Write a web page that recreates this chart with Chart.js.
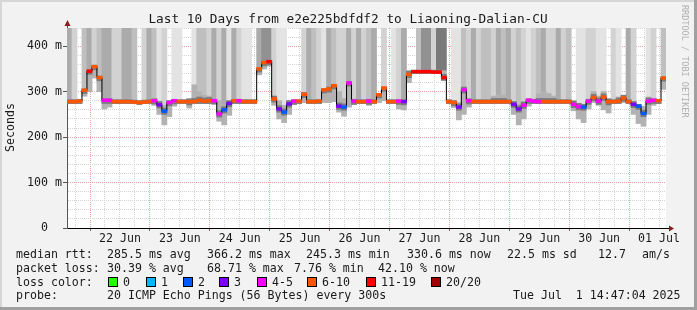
<!DOCTYPE html>
<html>
<head>
<meta charset="utf-8">
<script src="https://cdn.jsdelivr.net/npm/chart.js@4.4.1/dist/chart.umd.min.js"></script>
<style>
  html, body { margin: 0; padding: 0; background: #f2f2f2; }
  canvas { display: block; }
</style>
</head>
<body>
<canvas id="ping" width="697" height="310"></canvas>
<script>
// samples every 2 hours, hours counted from Jun 21 00:00, graph starts Jun 21 14:47
var startHour = 14.78;
var stepHours = 2;
var spanHours = 240;
var dayLabels = ['22 Jun', '23 Jun', '24 Jun', '25 Jun', '26 Jun', '27 Jun', '28 Jun', '29 Jun', '30 Jun', '01 Jul'];
var yLabels = ['0', '100 m', '200 m', '300 m', '400 m'];

// median rtt (ms), one row per 24h
var median = [
  278, 278, 279, 303, 345, 355, 331, 281, 281, 278, 278, 278,
  278, 277, 276, 277, 278, 280, 271, 257, 276, 280, 278, 278,
  278, 278, 281, 279, 280, 280, 251, 260, 274, 280, 280, 278,
  278, 278, 350, 364, 366, 284, 262, 255, 273, 279, 279, 294,
  278, 278, 279, 304, 306, 313, 268, 266, 319, 279, 278, 278,
  279, 278, 293, 308, 278, 278, 279, 278, 338, 344, 344, 344,
  344, 343, 343, 331, 278, 276, 266, 304, 280, 278, 278, 278,
  278, 278, 278, 278, 278, 272, 262, 270, 281, 279, 278, 278,
  278, 278, 278, 278, 278, 272, 267, 266, 279, 287, 279, 288,
  278, 278, 279, 286, 278, 272, 268, 252, 279, 281, 280, 330
];
// loss colour bucket of the median (index into lossColors)
var lossLevel = [
  5, 5, 5, 5, 6, 5, 5, 4, 4, 5, 5, 5,
  5, 5, 5, 5, 5, 4, 3, 2, 4, 4, 5, 5,
  5, 5, 5, 5, 5, 4, 4, 2, 3, 5, 4, 5,
  5, 5, 5, 5, 6, 5, 3, 2, 3, 4, 5, 5,
  5, 5, 5, 5, 5, 5, 3, 2, 4, 4, 5, 5,
  4, 5, 5, 5, 5, 5, 4, 3, 5, 6, 6, 6,
  6, 6, 6, 6, 5, 5, 3, 4, 4, 5, 5, 5,
  5, 5, 5, 5, 5, 3, 3, 4, 4, 4, 4, 5,
  5, 5, 5, 5, 5, 4, 4, 2, 4, 5, 4, 5,
  5, 5, 5, 5, 5, 3, 2, 2, 4, 4, 5, 5
];
// smoke (spread of the pings), low and high edge in ms
var smokeLow = [
  274, 274, 274, 290, 300, 330, 300, 262, 266, 274, 274, 274,
  274, 274, 272, 274, 274, 270, 250, 227, 245, 268, 274, 274,
  264, 274, 274, 274, 274, 272, 235, 227, 248, 274, 274, 274,
  274, 274, 337, 350, 356, 270, 240, 232, 250, 272, 274, 276,
  274, 274, 274, 276, 276, 278, 255, 246, 266, 272, 274, 274,
  270, 274, 276, 280, 274, 274, 262, 260, 320, 340, 340, 340,
  340, 340, 340, 325, 274, 265, 238, 250, 266, 274, 274, 274,
  274, 274, 274, 274, 274, 250, 227, 240, 268, 274, 274, 274,
  274, 274, 274, 274, 274, 258, 240, 232, 262, 276, 270, 260,
  253, 274, 274, 276, 274, 250, 230, 224, 250, 270, 274, 305
];
var smokeHigh = [
  282, 282, 283, 306, 348, 358, 334, 284, 284, 282, 282, 282,
  282, 281, 280, 281, 282, 284, 279, 270, 280, 283, 282, 282,
  284, 315, 300, 292, 290, 283, 280, 270, 280, 283, 283, 282,
  282, 282, 352, 366, 368, 290, 280, 270, 280, 282, 282, 298,
  282, 282, 282, 306, 310, 316, 300, 285, 322, 283, 282, 282,
  283, 282, 296, 310, 282, 282, 282, 282, 346, 347, 347, 347,
  347, 347, 347, 346, 282, 280, 276, 310, 284, 282, 282, 282,
  282, 290, 293, 292, 282, 278, 272, 278, 284, 283, 295, 300,
  296, 290, 282, 282, 282, 280, 274, 272, 283, 300, 290, 300,
  284, 282, 288, 292, 282, 278, 272, 268, 288, 284, 283, 332
];
// shade of the lost-ping columns above the smoke (0 = none, 6 = darkest)
var lossShade = [
  4, 2, 0, 3, 4, 2, 3, 4, 4, 2, 2, 4,
  4, 3, 0, 2, 4, 3, 1, 2, 0, 1, 1, 0,
  0, 1, 3, 3, 2, 4, 2, 4, 1, 4, 2, 1,
  1, 0, 4, 5, 5, 2, 1, 1, 0, 0, 0, 2,
  4, 3, 2, 1, 4, 3, 2, 2, 4, 2, 4, 2,
  3, 4, 0, 2, 0, 1, 2, 4, 0, 0, 3, 5,
  5, 2, 6, 6, 0, 1, 1, 3, 2, 4, 2, 3,
  3, 2, 4, 3, 4, 2, 3, 2, 1, 2, 3, 4,
  2, 2, 4, 2, 3, 0, 1, 1, 2, 2, 1, 1,
  0, 2, 1, 0, 4, 2, 0, 0, 1, 2, 0, 3
];

var lossColors = ['#26ff00', '#00b8ff', '#0059ff', '#7e00ff', '#ff00ff', '#ff5500', '#ff0000', '#a10000'];
var lossNames = ['0', '1', '2', '3', '4-5', '6-10', '11-19', '20/20'];
var shadeColors = ['rgba(0,0,0,0)', '#e3e3e3', '#d2d2d2', '#bfbfbf', '#ababab', '#919191', '#7a7a7a'];

var rttStats = ['285.5 ms avg', '366.2 ms max', '245.3 ms min', '330.6 ms now', '22.5 ms sd', '12.7', 'am/s'];
var lossStats = ['30.39 % avg', '68.71 % max', '7.76 % min', '42.10 % now'];
var probeText = '20 ICMP Echo Pings (56 Bytes) every 300s';
var stampText = 'Tue Jul  1 14:47:04 2025';

var yMax = 440;
var mono = "'DejaVu Sans Mono', monospace";
var majorGrid = '#eaa0a0';
var minorGrid = '#d4d4d4';

var lossBars = [], smokeBars = [], smokeCore = [], medianPts = [], markers = [];
median.forEach(function(v, i) {
  var h = startHour + stepHours / 2 + i * stepHours;
  lossBars.push({x: h, y: [smokeHigh[i], yMax]});
  smokeBars.push({x: h, y: [smokeLow[i], smokeHigh[i]]});
  smokeCore.push({x: h, y: [Math.max(smokeLow[i], v - 7), Math.min(smokeHigh[i], v + 7)]});
  medianPts.push({x: h, y: v});
  markers.push({x: h, y: [v - 2.9, v + 2.9]});
});

var barOpts = {barPercentage: 1, categoryPercentage: 1, grouped: false, borderWidth: 0, inflateAmount: 0.4};

var rrdFrame = {
  id: 'rrdFrame',
  beforeDraw: function(chart) {
    var c = chart.ctx, a = chart.chartArea;
    c.save();
    c.fillStyle = '#f2f2f2';
    c.fillRect(0, 0, 697, 310);
    c.fillStyle = '#d6d6d6';
    c.fillRect(0, 0, 697, 2);
    c.fillRect(0, 0, 2, 310);
    c.fillStyle = '#a0a0a0';
    c.fillRect(0, 307, 697, 3);
    c.fillRect(694, 0, 3, 310);
    c.fillStyle = '#ffffff';
    c.fillRect(a.left, a.top, a.right - a.left, a.bottom - a.top);
    c.restore();
  },
  afterDraw: function(chart) {
    var c = chart.ctx, a = chart.chartArea;
    c.save();
    // axis extensions and arrows
    c.strokeStyle = '#555';
    c.lineWidth = 1;
    c.beginPath();
    c.moveTo(a.left + 0.5, a.top);
    c.lineTo(a.left + 0.5, 24);
    c.stroke();
    c.strokeStyle = '#000';
    c.beginPath();
    c.moveTo(a.right, a.bottom + 0.5);
    c.lineTo(a.right + 4, a.bottom + 0.5);
    c.stroke();
    c.fillStyle = '#8b1c1c';
    c.beginPath();
    c.moveTo(a.left - 2.5, 26);
    c.lineTo(a.left + 3.5, 26);
    c.lineTo(a.left + 0.5, 20);
    c.closePath();
    c.fill();
    c.beginPath();
    c.moveTo(a.right + 3, a.bottom - 2.5);
    c.lineTo(a.right + 3, a.bottom + 3.5);
    c.lineTo(a.right + 8, a.bottom + 0.5);
    c.closePath();
    c.fill();

    c.fillStyle = '#1a1a1a';
    c.textBaseline = 'middle';
    c.textAlign = 'center';
    c.font = '12.75px ' + mono;
    c.fillText('Last 10 Days from e2e225bdfdf2 to Liaoning-Dalian-CU', 348, 19.5);

    c.font = '11.6px ' + mono;
    c.save();
    c.translate(10.5, 127.5);
    c.rotate(-Math.PI / 2);
    c.fillText('Seconds', 0, 0);
    c.restore();

    c.save();
    c.fillStyle = '#b0b0b0';
    c.font = '8.5px ' + mono;
    c.textAlign = 'left';
    c.translate(684.5, 5);
    c.rotate(Math.PI / 2);
    c.fillText('RRDTOOL / TOBI OETIKER', 0, 0);
    c.restore();

    c.textAlign = 'left';
    c.fillText('median rtt:', 16, 254.5);
    var rttX = [107, 207, 306, 407, 507, 598, 642];
    rttStats.forEach(function(t, i) { c.fillText(t, rttX[i], 254.5); });
    c.fillText('packet loss:', 16, 268.5);
    var lossX = [107, 207, 294, 378];
    lossStats.forEach(function(t, i) { c.fillText(t, lossX[i], 268.5); });
    c.fillText('loss color:', 16, 282.5);
    var boxX = [108, 146, 183, 219, 257, 307, 366, 431];
    lossNames.forEach(function(n, i) {
      c.fillStyle = lossColors[i];
      c.fillRect(boxX[i], 277.5, 9, 9);
      c.strokeStyle = '#000';
      c.strokeRect(boxX[i] + 0.5, 277.5, 9, 9);
      c.fillStyle = '#1a1a1a';
      c.fillText(n, boxX[i] + 15, 282.5);
    });
    c.fillText('probe:', 16, 296);
    c.fillText(probeText, 107, 296);
    c.fillText(stampText, 513, 296);
    c.restore();
  }
};

function gridColor(ctx, period) {
  if (!ctx.tick) return minorGrid;
  return ctx.tick.value % period === 0 ? majorGrid : minorGrid;
}

new Chart(document.getElementById('ping'), {
  type: 'bar',
  data: {
    datasets: [
      Object.assign({data: markers, backgroundColor: lossLevel.map(function(l) { return lossColors[l]; }), order: 1}, barOpts),
      {type: 'line', data: medianPts, stepped: 'middle', borderColor: '#000', borderWidth: 1, pointRadius: 0, order: 2},
      Object.assign({data: smokeCore, backgroundColor: '#7c7c7c', order: 3}, barOpts),
      Object.assign({data: smokeBars, backgroundColor: '#b2b2b2', order: 4}, barOpts),
      Object.assign({data: lossBars, backgroundColor: lossShade.map(function(s) { return shadeColors[s]; }), order: 5}, barOpts)
    ]
  },
  options: {
    responsive: false,
    animation: false,
    devicePixelRatio: 1,
    layout: {padding: {top: 28, right: 31, bottom: 62, left: 0}},
    plugins: {legend: {display: false}, tooltip: {enabled: false}, title: {display: false}},
    scales: {
      x: {
        type: 'linear',
        min: startHour,
        max: startHour + spanHours,
        offset: false,
        z: 1,
        afterBuildTicks: function(s) {
          var t = [];
          for (var h = 18; h < startHour + spanHours; h += 6) t.push({value: h});
          s.ticks = t;
        },
        afterFit: function(s) { s.height = 20; s.paddingLeft = 0; s.paddingRight = 0; },
        grid: {
          offset: false,
          color: function(ctx) { return gridColor(ctx, 24); },
          tickLength: 3,
          tickColor: function(ctx) { return ctx.tick && ctx.tick.value % 24 === 0 ? '#666' : 'rgba(0,0,0,0)'; }
        },
        border: {color: '#000', width: 1, dash: [1, 1]},
        ticks: {
          autoSkip: false,
          maxRotation: 0,
          padding: 1,
          color: '#1a1a1a',
          font: {family: mono, size: 11.6},
          callback: function(v) {
            return (v - 12) % 24 === 0 ? dayLabels[(v - 36) / 24] : '';
          }
        }
      },
      y: {
        min: 0,
        max: yMax,
        z: 1,
        afterBuildTicks: function(s) {
          var t = [];
          for (var v = 0; v <= yMax; v += 20) t.push({value: v});
          s.ticks = t;
        },
        afterFit: function(s) { s.width = 67; s.paddingTop = 0; s.paddingBottom = 0; },
        grid: {
          color: function(ctx) { return ctx.tick && ctx.tick.value === 0 ? 'rgba(0,0,0,0)' : gridColor(ctx, 100); },
          tickLength: 4,
          tickColor: function(ctx) { return ctx.tick && ctx.tick.value % 100 === 0 ? '#555' : 'rgba(0,0,0,0)'; }
        },
        border: {color: '#555', width: 1, dash: [1, 1]},
        ticks: {
          autoSkip: false,
          padding: 1,
          crossAlign: 'center',
          color: '#1a1a1a',
          font: {family: mono, size: 11.6},
          callback: function(v) { return v % 100 === 0 ? yLabels[v / 100] : ''; }
        }
      }
    }
  },
  plugins: [rrdFrame]
});
</script>
</body>
</html>
